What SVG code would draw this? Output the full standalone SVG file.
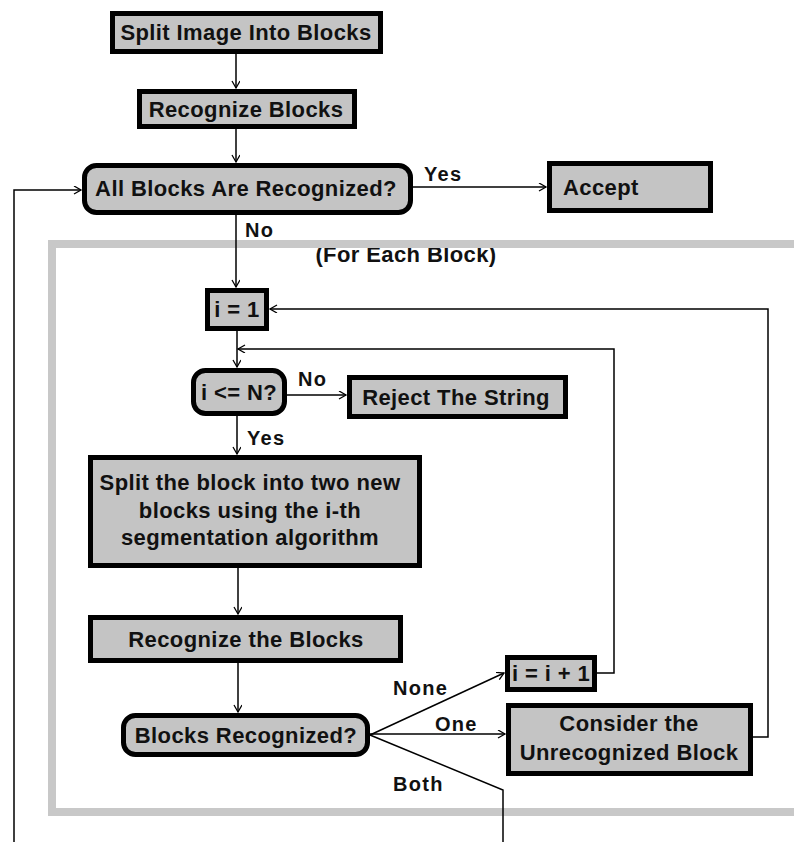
<svg xmlns="http://www.w3.org/2000/svg" width="794" height="842" viewBox="0 0 794 842">
<defs>
<style>
.box{fill:#c4c4c4;stroke:#000;stroke-width:5}
.t{font-family:"Liberation Sans",Arial,sans-serif;font-weight:bold;font-size:22px;letter-spacing:0.4px;fill:#111;text-anchor:middle}
.lbl{font-family:"Liberation Sans",Arial,sans-serif;font-weight:bold;font-size:20px;letter-spacing:1.3px;fill:#111}
.c{fill:none;stroke:#000;stroke-width:1.5}
.band{fill:none;stroke:#c8c8c8;stroke-width:8}
</style>
<marker id="ah" markerWidth="10" markerHeight="10" refX="8" refY="4" orient="auto" markerUnits="userSpaceOnUse">
<path d="M1,0 L8,4 L1,8" fill="none" stroke="#000" stroke-width="1.3"/>
</marker>
</defs>
<rect width="794" height="842" fill="#fff"/>

<text class="t" x="406" y="262">(For Each Block)</text>
<path class="band" d="M800,244 H52 V812 H800"/>

<g id="connectors">
<path class="c" d="M236,54 V88" marker-end="url(#ah)"/>
<path class="c" d="M236,129 V162" marker-end="url(#ah)"/>
<path class="c" d="M236,215 V287" marker-end="url(#ah)"/>
<path class="c" d="M413,187 H546" marker-end="url(#ah)"/>
<path class="c" d="M237,331 V367" marker-end="url(#ah)"/>
<path class="c" d="M287,395 H346" marker-end="url(#ah)"/>
<path class="c" d="M237,416 V454" marker-end="url(#ah)"/>
<path class="c" d="M238,568 V614" marker-end="url(#ah)"/>
<path class="c" d="M238,663 V712" marker-end="url(#ah)"/>
<path class="c" d="M370,735 L504,673" marker-end="url(#ah)"/>
<path class="c" d="M370,734 H505" marker-end="url(#ah)"/>
<path class="c" d="M370,735 L503,790 V842"/>
<path class="c" d="M597,673 H614 V349 H238" marker-end="url(#ah)"/>
<path class="c" d="M753,737 H768 V309 H270" marker-end="url(#ah)"/>
<path class="c" d="M14,842 V190 H81" marker-end="url(#ah)"/>
<text class="lbl" x="245" y="237">No</text>
<text class="lbl" x="424" y="181">Yes</text>
<text class="lbl" x="298" y="386">No</text>
<text class="lbl" x="247" y="445">Yes</text>
<text class="lbl" x="393" y="695">None</text>
<text class="lbl" x="435" y="731">One</text>
<text class="lbl" x="393" y="791">Both</text>
</g>

<g id="n1"><rect class="box" x="112.5" y="13.5" width="268" height="38"/><text class="t" x="246" y="40">Split Image Into Blocks</text></g>
<g id="n2"><rect class="box" x="139.5" y="91.5" width="215" height="35"/><text class="t" x="246" y="117">Recognize Blocks</text></g>
<g id="n3"><rect class="box" x="84.5" y="165.5" width="326" height="47" rx="12"/><text class="t" x="246" y="196">All Blocks Are Recognized?</text></g>
<g id="n4"><rect class="box" x="549.5" y="163.5" width="161" height="47"/><text class="t" x="563" y="195" style="text-anchor:start">Accept</text></g>
<g id="n5"><rect class="box" x="207.5" y="290.5" width="59" height="38"/><text class="t" x="237" y="317">i = 1</text></g>
<g id="n6"><rect class="box" x="193.5" y="370.5" width="91" height="43" rx="12"/><text class="t" x="239" y="400">i &lt;= N?</text></g>
<g id="n7"><rect class="box" x="349.5" y="377.5" width="216" height="39"/><text class="t" x="456" y="405">Reject The String</text></g>
<g id="n8"><rect class="box" x="90.5" y="457.5" width="329" height="108"/>
<text class="t" x="250" y="490">Split the block into two new</text>
<text class="t" x="250" y="518">blocks using the i-th</text>
<text class="t" x="250" y="545">segmentation algorithm</text></g>
<g id="n9"><rect class="box" x="90.5" y="617.5" width="310" height="43"/><text class="t" x="246" y="647">Recognize the Blocks</text></g>
<g id="n10"><rect class="box" x="123.5" y="715.5" width="244" height="39" rx="12"/><text class="t" x="246" y="743">Blocks Recognized?</text></g>
<g id="n11"><rect class="box" x="507.5" y="657.5" width="87" height="32"/><text class="t" x="551" y="681">i = i + 1</text></g>
<g id="n12"><rect class="box" x="508.5" y="705.5" width="242" height="68"/>
<text class="t" x="629" y="731">Consider the</text>
<text class="t" x="629" y="760">Unrecognized Block</text></g>
</svg>
